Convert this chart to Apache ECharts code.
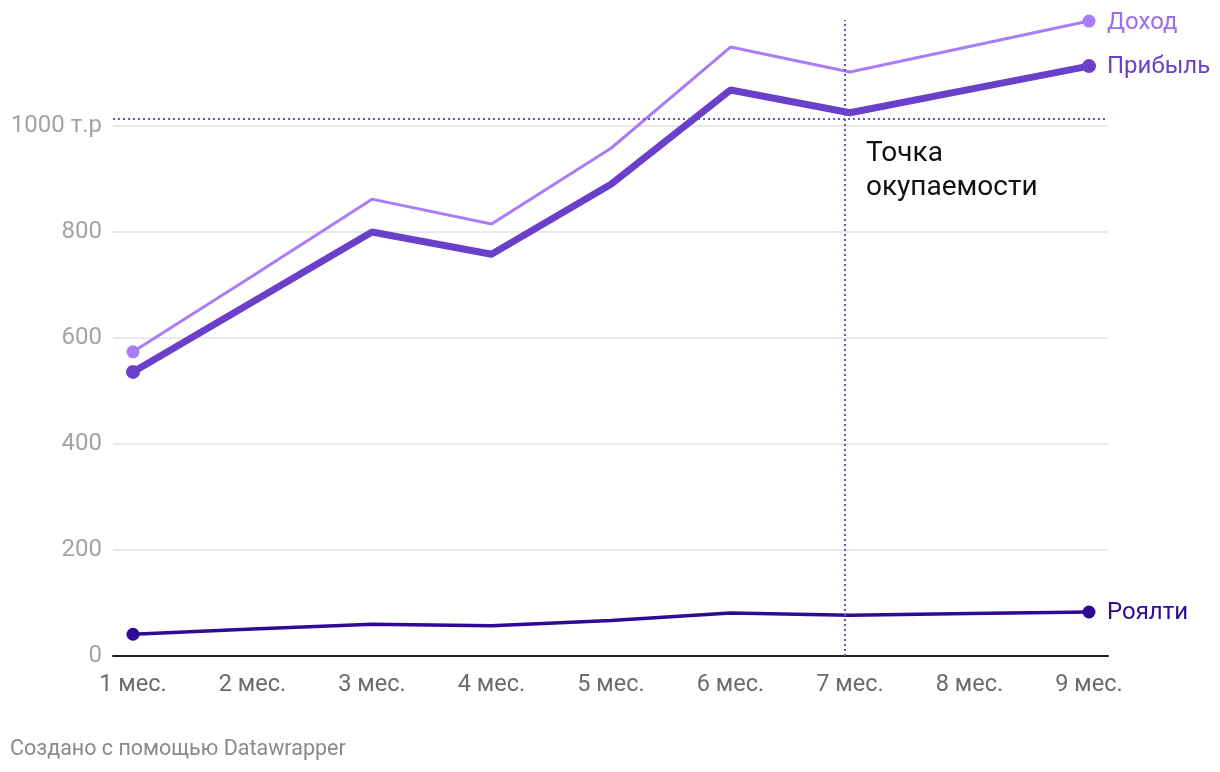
<!DOCTYPE html>
<html><head><meta charset="utf-8">
<script src="https://cdn.jsdelivr.net/npm/echarts@6/dist/echarts.min.js"></script>
<style>html,body{margin:0;padding:0;background:#fff}#c{width:1220px;height:772px}</style>
</head><body><div id="c"></div>
<script>
const months = ['1 мес.','2 мес.','3 мес.','4 мес.','5 мес.','6 мес.','7 мес.','8 мес.','9 мес.'];
const income = [574, 717, 862, 815, 958, 1149, 1102, 1150, 1198];
const profit = [536, 668, 800, 758, 890, 1068, 1025, 1069, 1113];
const royalty = [41, 51, 60, 57, 67, 81, 77, 80, 83];
const breakEvenX = 5.96;
const breakEvenY = 1013;

const FONT = 'Roboto, "Noto Sans", sans-serif';
const chart = echarts.init(document.getElementById('c'));
const last = months.length - 1;
function pts(arr){ return arr.map((v,i)=>[i,v]); }
function sym(size){ return (val, p) => (p.dataIndex === 0 || p.dataIndex === last) ? size : 0; }

chart.setOption({
  animation: false,
  grid: [
    {left: 133, right: 131, top: 20, bottom: 116},
    {left: 113, right: 112, top: 20, bottom: 116}
  ],
  xAxis: [
    {gridIndex: 0, type: 'value', min: 0, max: 8, interval: 1,
     axisLine: {show: false}, axisTick: {show: false}, splitLine: {show: false},
     axisLabel: {formatter: v => months[v] || '', color: '#6b6b6b', fontSize: 23.5, fontFamily: FONT, margin: 17}},
    {gridIndex: 1, type: 'value', min: 0, max: 1, show: true,
     axisLine: {show: true, lineStyle: {color: '#222', width: 2}}, axisTick: {show: false},
     axisLabel: {show: false}, splitLine: {show: false}}
  ],
  yAxis: [
    {gridIndex: 0, type: 'value', min: 0, max: 1200, show: false, splitLine: {show: false}},
    {gridIndex: 1, type: 'value', min: 0, max: 1200, interval: 200,
     axisLine: {show: false}, axisTick: {show: false},
     splitLine: {showMaxLine: false, lineStyle: {color: '#e2e2e2', width: 1.5}},
     axisLabel: {showMaxLabel: false, formatter: v => v === 1000 ? '1000 т.р' : String(v), color: '#a3a3a3', fontSize: 24, fontFamily: FONT, margin: 11}}
  ],
  series: [
    {name: 'Роялти', type: 'line', xAxisIndex: 0, yAxisIndex: 0, data: pts(royalty),
     lineStyle: {color: '#2e0a96', width: 3.5}, itemStyle: {color: '#2e0a96'},
     symbol: 'circle', symbolSize: sym(13), showAllSymbol: true,
     endLabel: {show: true, formatter: '{a}', color: '#2e0a96', fontSize: 24, fontFamily: FONT, distance: 18, offset: [0, 1]}},
    {name: 'Доход', type: 'line', xAxisIndex: 0, yAxisIndex: 0, data: pts(income),
     lineStyle: {color: '#a97cf8', width: 3}, itemStyle: {color: '#a97cf8'},
     symbol: 'circle', symbolSize: sym(13), showAllSymbol: true,
     endLabel: {show: true, formatter: '{a}', color: '#9a6cf0', fontSize: 24, fontFamily: FONT, distance: 18, offset: [0, 2]}},
    {name: 'Прибыль', type: 'line', xAxisIndex: 0, yAxisIndex: 0, data: pts(profit),
     lineStyle: {color: '#6a3fca', width: 7}, itemStyle: {color: '#6a3fca'},
     symbol: 'circle', symbolSize: sym(14), showAllSymbol: true,
     endLabel: {show: true, formatter: '{a}', color: '#6a3fca', fontSize: 24, fontFamily: FONT, distance: 18, offset: [0, 1]},
     markLine: {silent: true, symbol: 'none', label: {show: false},
       lineStyle: {color: '#6a4fd6', type: [2, 3], width: 2},
       data: [{xAxis: breakEvenX}]}},
    {name: 'be', type: 'line', xAxisIndex: 1, yAxisIndex: 1, data: [],
     markLine: {silent: true, symbol: 'none', label: {show: false},
       lineStyle: {color: '#6a4fd6', type: [2, 3], width: 2},
       data: [{yAxis: breakEvenY}]}}
  ],
  graphic: [
    {type: 'text', left: 866, top: 137, style: {text: 'Точка\nокупаемости', fill: '#111', fontSize: 28, lineHeight: 34, fontFamily: FONT}},
    {type: 'text', left: 10, top: 739, style: {text: 'Создано с помощью Datawrapper', fill: '#8a8a8a', fontSize: 21.5, fontFamily: FONT}}
  ]
});
</script></body></html>
